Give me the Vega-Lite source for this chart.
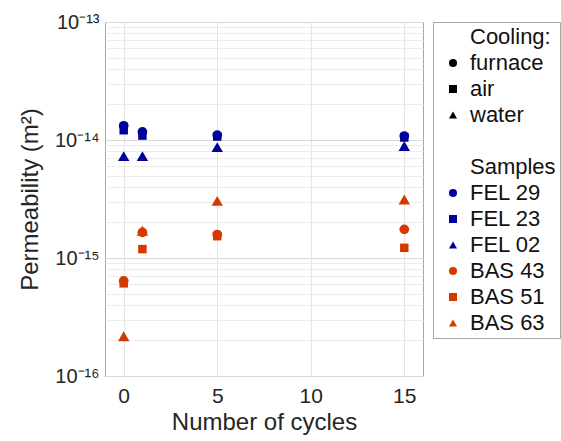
{
  "$schema": "https://vega.github.io/schema/vega-lite/v6.json",
  "autosize": {"type": "none"},
  "padding": {"left": 105, "top": 22, "right": 138, "bottom": 65},
  "width": 318,
  "height": 354,
  "background": "white",
  "config": {
    "view": {"stroke": "#a6a6a6", "strokeWidth": 1},
    "font": "Liberation Sans",
    "axis": {
      "domain": false,
      "ticks": false,
      "labelFont": "Liberation Sans",
      "titleFont": "Liberation Sans",
      "labelColor": "#262626",
      "titleColor": "#262626",
      "titleFontWeight": "normal",
      "gridColor": "#e6e6e6",
      "gridWidth": 1
    },
    "legend": {
      "labelFont": "Liberation Sans",
      "labelColor": "#111111",
      "labelFontSize": 22,
      "strokeColor": "#a6a6a6",
      "padding": 4,
      "rowPadding": 4,
      "symbolOffset": 5,
      "labelOffset": 6,
      "symbolSize": 65,
      "symbolStrokeWidth": 0,
      "offset": 10
    }
  },
  "data": {
    "values": [
      {"sample": "FEL 02", "cycles": 0, "perm": 7.3e-15},
      {"sample": "FEL 02", "cycles": 1, "perm": 7.3e-15},
      {"sample": "FEL 02", "cycles": 5, "perm": 8.7e-15},
      {"sample": "FEL 02", "cycles": 15, "perm": 8.9e-15},
      {"sample": "BAS 63", "cycles": 0, "perm": 2.17e-16},
      {"sample": "BAS 63", "cycles": 1, "perm": 1.7e-15},
      {"sample": "BAS 63", "cycles": 5, "perm": 3.05e-15},
      {"sample": "BAS 63", "cycles": 15, "perm": 3.13e-15},
      {"sample": "FEL 23", "cycles": 0, "perm": 1.21e-14},
      {"sample": "FEL 23", "cycles": 1, "perm": 1.09e-14},
      {"sample": "FEL 23", "cycles": 5, "perm": 1.07e-14},
      {"sample": "FEL 23", "cycles": 15, "perm": 1.05e-14},
      {"sample": "BAS 51", "cycles": 0, "perm": 6.1e-16},
      {"sample": "BAS 51", "cycles": 1, "perm": 1.19e-15},
      {"sample": "BAS 51", "cycles": 5, "perm": 1.53e-15},
      {"sample": "BAS 51", "cycles": 15, "perm": 1.22e-15},
      {"sample": "FEL 29", "cycles": 0, "perm": 1.32e-14},
      {"sample": "FEL 29", "cycles": 1, "perm": 1.17e-14},
      {"sample": "FEL 29", "cycles": 5, "perm": 1.1e-14},
      {"sample": "FEL 29", "cycles": 15, "perm": 1.08e-14},
      {"sample": "BAS 43", "cycles": 0, "perm": 6.4e-16},
      {"sample": "BAS 43", "cycles": 1, "perm": 1.65e-15},
      {"sample": "BAS 43", "cycles": 5, "perm": 1.58e-15},
      {"sample": "BAS 43", "cycles": 15, "perm": 1.75e-15}
    ]
  },
  "mark": {"type": "point", "filled": true, "opacity": 1, "strokeWidth": 0},
  "encoding": {
    "x": {
      "field": "cycles",
      "type": "quantitative",
      "scale": {"domain": [-1, 16], "nice": false, "zero": false},
      "axis": {
        "values": [0, 5, 10, 15],
        "title": "Number of cycles",
        "labelFontSize": 21,
        "titleFontSize": 24,
        "labelPadding": 9,
        "titlePadding": 4,
        "grid": true,
        "gridColor": "#e6e6e6"
      }
    },
    "y": {
      "field": "perm",
      "type": "quantitative",
      "scale": {"type": "log", "domain": [1e-16, 1e-13], "nice": false},
      "axis": {
        "values": [1e-16, 2e-16, 3e-16, 4e-16, 5e-16, 6e-16, 7e-16, 8e-16, 9e-16, 1e-15, 2e-15, 3e-15, 4e-15, 5e-15, 6e-15, 7e-15, 8e-15, 9e-15, 1e-14, 2e-14, 3e-14, 4e-14, 5e-14, 6e-14, 7e-14, 8e-14, 9e-14, 1e-13],
        "labelExpr": "datum.value == 1e-13 ? '10⁻¹³' : datum.value == 1e-14 ? '10⁻¹⁴' : datum.value == 1e-15 ? '10⁻¹⁵' : datum.value == 1e-16 ? '10⁻¹⁶' : ''",
        "labelOverlap": false,
        "labelFontSize": 20,
        "labelPadding": 6,
        "title": "Permeability (m²)",
        "titleFontSize": 24,
        "titlePadding": 12,
        "grid": true,
        "gridColor": {"condition": {"test": "datum.value == 1e-13 || datum.value == 1e-14 || datum.value == 1e-15 || datum.value == 1e-16", "value": "#dadada"}, "value": "#ececec"}
      }
    },
    "size": {
      "field": "sample",
      "type": "nominal",
      "scale": {
        "type": "ordinal",
        "domain": ["FEL 29", "FEL 23", "FEL 02", "BAS 43", "BAS 51", "BAS 63"],
        "range": [95, 72, 130, 95, 72, 130]
      },
      "legend": null
    },
    "color": {
      "field": "sample",
      "type": "nominal",
      "scale": {
        "domain": ["Cooling:", "furnace", "air", "water", " ", "Samples", "FEL 29", "FEL 23", "FEL 02", "BAS 43", "BAS 51", "BAS 63"],
        "range": ["transparent", "#000000", "#000000", "#000000", "transparent", "transparent", "#00009c", "#00009c", "#00009c", "#d43a00", "#d43a00", "#d43a00"]
      },
      "legend": {"title": null}
    },
    "shape": {
      "field": "sample",
      "type": "nominal",
      "scale": {
        "domain": ["Cooling:", "furnace", "air", "water", " ", "Samples", "FEL 29", "FEL 23", "FEL 02", "BAS 43", "BAS 51", "BAS 63"],
        "range": ["circle", "circle", "square", "triangle-up", "circle", "circle", "circle", "square", "triangle-up", "circle", "square", "triangle-up"]
      },
      "legend": {"title": null}
    }
  }
}
